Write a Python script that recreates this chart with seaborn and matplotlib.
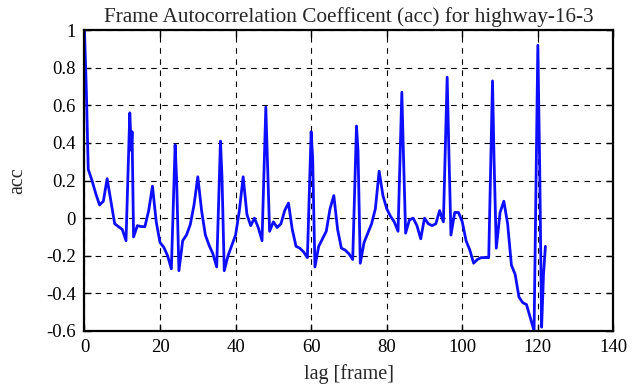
import numpy as np
import pandas as pd
import matplotlib
matplotlib.use("Agg")
import matplotlib.pyplot as plt
import seaborn as sns

# lag values (a few half-lag points inside the spikes)
lags = [0, 0.5, 1, 2, 3, 4, 5, 6, 7, 8, 9, 10, 11, 12, 12.4, 12.6, 13, 14, 15,
        16, 17, 18, 19, 20, 21, 22, 23, 24, 24.4, 25, 26, 27, 28, 29, 30, 31,
        32, 33, 34, 35, 36, 36.4, 37, 38, 39, 40, 41, 42, 43, 44, 45, 46, 47,
        48, 48.4, 49, 50, 51, 52, 53, 54, 55, 56, 57, 58, 59, 60, 60.4, 61,
        62, 63, 64, 65, 66, 67, 68, 69, 70, 71, 72, 72.4, 73, 74, 75, 76, 77,
        78, 79, 80, 81, 82, 83, 84, 84.4, 85, 86, 87, 88, 89, 90, 91, 92, 93,
        94, 95, 96, 96.4, 97, 98, 99, 100, 101, 102, 103, 104, 105, 106, 107,
        108, 108.4, 109, 110, 111, 112, 113, 114, 115, 116, 117, 118, 119,
        120, 120.5, 121, 121.5, 122]
acc = [1.0, 0.68, 0.26, 0.2, 0.13, 0.07, 0.09, 0.21, 0.09, -0.03, -0.045, -0.06, -0.12, 0.56, 0.36, 0.46, -0.1, -0.04, -0.045,
       -0.045, 0.04, 0.17, -0.02, -0.13, -0.155, -0.2, -0.27, 0.39, 0.2, -0.28, -0.12, -0.09, -0.035, 0.07, 0.22, 0.04,
       -0.09, -0.145, -0.19, -0.26, 0.41, 0.22, -0.28, -0.2, -0.145, -0.09, 0.04, 0.22, 0.02, -0.04, 0.0, -0.05, -0.12,
       0.59, 0.32, -0.07, -0.02, -0.05, -0.03, 0.04, 0.08, -0.06, -0.15, -0.16, -0.18, -0.21, 0.46, 0.32, -0.26,
       -0.15, -0.11, -0.07, 0.05, 0.12, -0.06, -0.16, -0.17, -0.19, -0.22, 0.49, 0.36, -0.24, -0.13, -0.08, -0.03, 0.05,
       0.25, 0.12, 0.05, 0.01, -0.02, -0.07, 0.67, 0.36, -0.08, -0.01, 0.0, -0.04, -0.11, 0.0, -0.03, -0.04, -0.03,
       0.04, -0.02, 0.75, 0.4, -0.09, 0.03, 0.03, -0.02, -0.12, -0.17, -0.24, -0.22, -0.21, -0.21, -0.21,
       0.73, 0.32, -0.16, 0.03, 0.09, -0.03, -0.25, -0.3, -0.42, -0.45, -0.46, -0.53, -0.6,
       0.92, 0.26, -0.58, -0.3, -0.15]

xticks = [0, 20, 40, 60, 80, 100, 120, 140]
yticks = [-0.6, -0.4, -0.2, 0, 0.2, 0.4, 0.6, 0.8, 1]
ytick_labels = ["-0.6", "-0.4", "-0.2", "0", "0.2", "0.4", "0.6", "0.8", "1"]

df = pd.DataFrame({"lag": lags, "acc": acc})

sns.set_style("ticks")
plt.rcParams['font.family'] = ['Liberation Serif', 'DejaVu Serif']
plt.rcParams['axes.unicode_minus'] = False

fig = plt.figure(figsize=(6.35, 3.87), dpi=100)
ax = fig.add_axes([0.133, 0.145, 0.833, 0.777])

sns.lineplot(data=df, x="lag", y="acc", sort=False, color=(0.05, 0.05, 1.0),
             linewidth=2.0, ax=ax)

ax.set_xlim(0, 140)
ax.set_ylim(-0.6, 1)
ax.set_xticks(xticks)
ax.set_xticklabels([str(t) for t in xticks])
ax.set_yticks(yticks)
ax.set_yticklabels(ytick_labels)
ax.grid(True, color="black", linestyle=(0, (5, 5)), linewidth=0.8)
ax.tick_params(direction="in", length=5, width=1, top=True, right=True,
               labelsize=13.5, colors="black", pad=6)
for s in ax.spines.values():
    s.set_linewidth(1.6)
    s.set_color("black")

ax.set_title("Frame Autocorrelation Coefficent (acc) for highway-16-3", fontsize=15.3, pad=6)
ax.set_xlabel("lag [frame]", fontsize=14.5, labelpad=6)
ax.set_ylabel("acc", fontsize=14.5, labelpad=14)

fig.savefig("out.png", dpi=100)
